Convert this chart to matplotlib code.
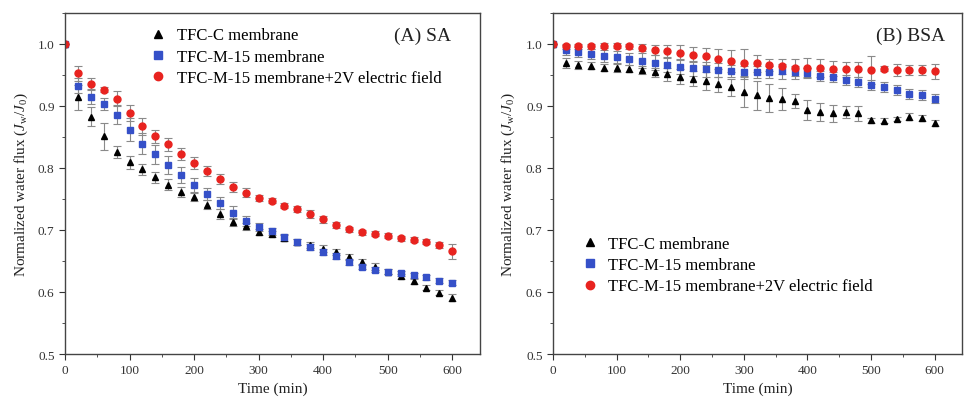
import matplotlib
matplotlib.use("Agg")
import matplotlib.pyplot as plt
from matplotlib.lines import Line2D
from matplotlib.ticker import MultipleLocator, FormatStrFormatter

plt.rcParams["font.family"] = ["Liberation Serif", "DejaVu Serif"]
plt.rcParams["mathtext.fontset"] = "custom"
plt.rcParams["mathtext.it"] = "Liberation Serif:italic"
plt.rcParams["mathtext.rm"] = "Liberation Serif"

time = list(range(0, 601, 20))

# (A) SA fouling
sa_c = [1.0, 0.914, 0.883, 0.851, 0.826, 0.809, 0.798, 0.785, 0.773, 0.761, 0.753,
        0.741, 0.726, 0.713, 0.706, 0.697, 0.693, 0.687, 0.680, 0.676, 0.670,
        0.664, 0.657, 0.649, 0.641, 0.633, 0.625, 0.617, 0.607, 0.599, 0.591]
sa_c_err = [0.0, 0.020, 0.015, 0.022, 0.010, 0.010, 0.009, 0.009, 0.009, 0.008, 0.007,
            0.007, 0.008, 0.006, 0.006, 0.005, 0.005, 0.005, 0.005, 0.005, 0.005,
            0.005, 0.005, 0.005, 0.005, 0.004, 0.004, 0.004, 0.004, 0.004, 0.005]
sa_m = [1.0, 0.933, 0.915, 0.903, 0.886, 0.862, 0.839, 0.822, 0.805, 0.789, 0.773,
        0.758, 0.744, 0.728, 0.715, 0.705, 0.698, 0.688, 0.680, 0.672, 0.665,
        0.658, 0.648, 0.641, 0.636, 0.633, 0.630, 0.627, 0.624, 0.618, 0.615]
sa_m_err = [0.0, 0.012, 0.012, 0.010, 0.015, 0.018, 0.017, 0.015, 0.014, 0.013, 0.011,
            0.010, 0.010, 0.010, 0.008, 0.007, 0.006, 0.006, 0.005, 0.005, 0.005,
            0.005, 0.005, 0.004, 0.004, 0.004, 0.004, 0.004, 0.004, 0.004, 0.004]
sa_e = [1.0, 0.953, 0.935, 0.926, 0.912, 0.889, 0.867, 0.851, 0.838, 0.823, 0.808,
        0.795, 0.782, 0.769, 0.760, 0.751, 0.747, 0.739, 0.734, 0.726, 0.717,
        0.708, 0.701, 0.696, 0.694, 0.691, 0.687, 0.684, 0.681, 0.676, 0.666]
sa_e_err = [0.0, 0.012, 0.010, 0.004, 0.012, 0.013, 0.014, 0.011, 0.010, 0.010, 0.009,
            0.008, 0.008, 0.008, 0.007, 0.005, 0.004, 0.004, 0.005, 0.006, 0.006,
            0.005, 0.004, 0.004, 0.004, 0.004, 0.004, 0.004, 0.004, 0.005, 0.012]

# (B) BSA fouling
bsa_c = [1.0, 0.969, 0.966, 0.965, 0.962, 0.961, 0.960, 0.958, 0.954, 0.951, 0.947,
         0.944, 0.940, 0.935, 0.930, 0.923, 0.917, 0.913, 0.911, 0.908, 0.894,
         0.890, 0.888, 0.890, 0.888, 0.877, 0.876, 0.879, 0.883, 0.881, 0.873]
bsa_c_err = [0.0, 0.008, 0.006, 0.006, 0.006, 0.006, 0.006, 0.006, 0.008, 0.010, 0.012,
             0.012, 0.014, 0.012, 0.014, 0.024, 0.024, 0.022, 0.018, 0.012, 0.016,
             0.014, 0.014, 0.010, 0.012, 0.004, 0.004, 0.004, 0.005, 0.005, 0.005]
bsa_m = [1.0, 0.991, 0.987, 0.984, 0.981, 0.979, 0.976, 0.973, 0.970, 0.966, 0.963,
         0.961, 0.959, 0.958, 0.956, 0.954, 0.955, 0.955, 0.956, 0.954, 0.953,
         0.949, 0.946, 0.942, 0.938, 0.934, 0.930, 0.926, 0.920, 0.917, 0.912]
bsa_m_err = [0.0, 0.008, 0.008, 0.008, 0.010, 0.010, 0.010, 0.012, 0.012, 0.012, 0.012,
             0.012, 0.012, 0.012, 0.010, 0.010, 0.010, 0.010, 0.012, 0.010, 0.008,
             0.008, 0.008, 0.008, 0.008, 0.008, 0.008, 0.008, 0.008, 0.008, 0.008]
bsa_e = [1.0, 0.996, 0.996, 0.996, 0.997, 0.997, 0.996, 0.994, 0.991, 0.989, 0.986,
         0.983, 0.980, 0.976, 0.973, 0.970, 0.969, 0.966, 0.964, 0.962, 0.962,
         0.961, 0.960, 0.959, 0.959, 0.958, 0.960, 0.958, 0.958, 0.958, 0.956]
bsa_e_err = [0.0, 0.004, 0.004, 0.004, 0.004, 0.004, 0.004, 0.006, 0.008, 0.010, 0.012,
             0.012, 0.014, 0.016, 0.018, 0.022, 0.014, 0.010, 0.012, 0.014, 0.016,
             0.014, 0.012, 0.012, 0.012, 0.022, 0.004, 0.010, 0.008, 0.008, 0.012]

labels = ["TFC-C membrane", "TFC-M-15 membrane", "TFC-M-15 membrane+2V electric field"]
styles = [("^", "black"), ("s", "#3550c8"), ("o", "#e8231f")]
ylabel = r"Normalized water flux ($J_{\mathrm{w}}/J_{0}$)"

fig = plt.figure(figsize=(9.65, 4.06), dpi=100)
ax_a = fig.add_axes([0.0674, 0.1256, 0.4300, 0.8400])
ax_b = fig.add_axes([0.5730, 0.1256, 0.4240, 0.8400])


def draw(ax, series, title, title_x, legend_loc, legend_anchor):
    handles = []
    for (vals, errs), (mk, col), lab in zip(series, styles, labels):
        ax.errorbar(time, vals, yerr=errs, fmt=mk, color=col, ms=5, mec=col,
                    ecolor="#8a8a8a", elinewidth=0.8, capsize=3, capthick=0.8)
        handles.append(Line2D([], [], ls="none", marker=mk, color=col, ms=6,
                              label=lab))
    ax.set_xlim(0, 643)
    ax.set_ylim(0.5, 1.05)
    ax.xaxis.set_major_locator(MultipleLocator(100))
    ax.xaxis.set_minor_locator(MultipleLocator(50))
    ax.yaxis.set_major_locator(MultipleLocator(0.1))
    ax.yaxis.set_minor_locator(MultipleLocator(0.05))
    ax.yaxis.set_major_formatter(FormatStrFormatter("%.1f"))
    ax.tick_params(which="both", direction="out", labelsize=9.5, colors="#333333")
    ax.tick_params(which="major", length=4)
    ax.tick_params(which="minor", length=2.5)
    ax.set_xlabel("Time (min)", fontsize=11, color="#222222", labelpad=4)
    ax.set_ylabel(ylabel, fontsize=11, color="#222222", labelpad=6)
    for sp in ax.spines.values():
        sp.set_color("#444444")
        sp.set_linewidth(1.0)
    ax.text(title_x, 0.935, title, transform=ax.transAxes, ha="right", va="center",
            fontsize=14, color="#222222")
    ax.legend(handles=handles, loc=legend_loc, bbox_to_anchor=legend_anchor,
              frameon=False, fontsize=12, handletextpad=0.5, labelspacing=0.32,
              handlelength=1.2, borderaxespad=0.0)


draw(ax_a, [(sa_c, sa_c_err), (sa_m, sa_m_err), (sa_e, sa_e_err)],
     "(A) SA", 0.93, "upper left", (0.185, 0.977))
draw(ax_b, [(bsa_c, bsa_c_err), (bsa_m, bsa_m_err), (bsa_e, bsa_e_err)],
     "(B) BSA", 0.958, "lower left", (0.05, 0.155))

fig.savefig("out.png", dpi=100, facecolor="white")
